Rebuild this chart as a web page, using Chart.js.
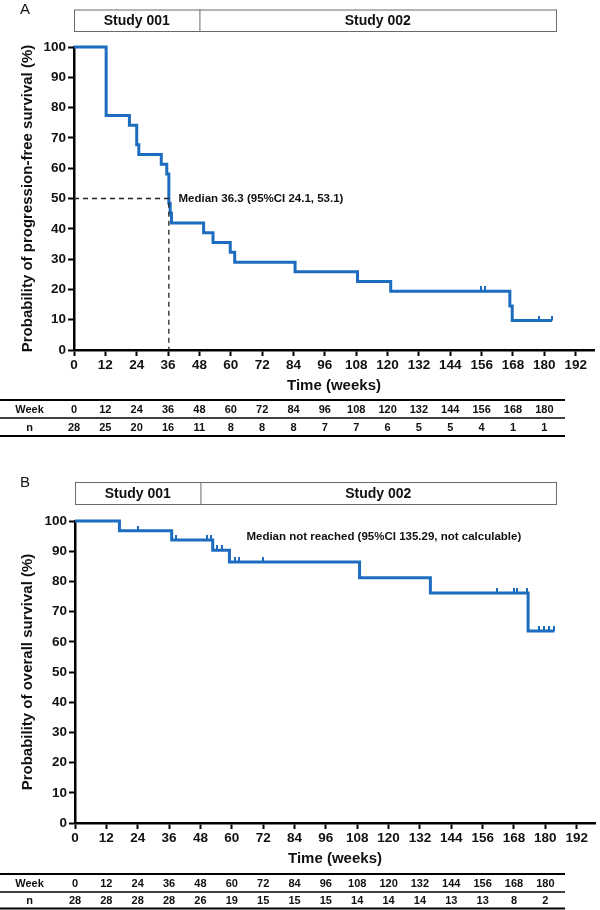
<!DOCTYPE html>
<html>
<head>
<meta charset="utf-8">
<title>PFS and OS</title>
<script src="https://cdn.jsdelivr.net/npm/chart.js@4.4.1/dist/chart.umd.min.js"></script>
<style>
  body { margin: 0; background: #fff; }
  #wrap { position: relative; width: 600px; height: 910px; }
  #wrap canvas { position: absolute; left: 0; }
</style>
</head>
<body>
<div id="wrap">
  <canvas id="pfsChart" width="600" height="450" style="top:0"></canvas>
  <canvas id="osChart" width="600" height="460" style="top:450px"></canvas>
</div>
<script>
// axis ticks and number-at-risk table
const xTickWeeks = [0, 12, 24, 36, 48, 60, 72, 84, 96, 108, 120, 132, 144, 156, 168, 180, 192];
const tableWeeks = [0, 12, 24, 36, 48, 60, 72, 84, 96, 108, 120, 132, 144, 156, 168, 180];
const pfsAtRisk = [28, 25, 20, 16, 11, 8, 8, 8, 7, 7, 6, 5, 5, 4, 1, 1];
const osAtRisk = [28, 28, 28, 28, 26, 19, 15, 15, 15, 14, 14, 14, 13, 13, 8, 2];

// progression-free survival (A)
const pfsWeeks = [0, 12.3, 21.2, 24.0, 24.8, 33.4, 35.5, 36.3, 36.8, 37.3, 49.6, 53.2, 59.8, 61.5, 84.6, 108.5, 121.2, 166.8, 167.7, 182.9];
const pfsSurv  = [100, 77.4, 74.2, 67.7, 64.5, 61.3, 58.1, 48.4, 45.2, 41.9, 38.7, 35.5, 32.3, 29.0, 25.8, 22.6, 19.4, 14.5, 9.7, 9.7];
const pfsCensorWeeks = [155.7, 157.2, 177.8, 182.9];
const pfsCensorSurv  = [19.4, 19.4, 9.7, 9.7];
const medianLineX = [0, 36.3, 36.3];
const medianLineY = [50, 50, 0];

// overall survival (B)
const osWeeks = [0, 17.0, 37.0, 52.7, 59.1, 108.9, 136.0, 173.4, 183.5];
const osSurv  = [100, 96.8, 93.7, 90.3, 86.4, 81.2, 76.2, 63.6, 63.6];
const osCensorWeeks = [24.3, 38.7, 50.4, 52.0, 54.3, 56.2, 61.3, 62.9, 71.9, 161.5, 168.0, 169.2, 173.0, 177.5, 179.4, 181.3, 183.5];
const osCensorSurv  = [96.8, 93.7, 93.7, 93.7, 90.3, 90.3, 86.4, 86.4, 86.4, 76.2, 76.2, 76.2, 76.2, 63.6, 63.6, 63.6, 63.6];

const blue = '#1c6dbf';
const fontFam = "'Liberation Sans', Arial, Helvetica, sans-serif";
Chart.defaults.font.family = fontFam;
Chart.defaults.color = '#111';

// small vertical tick for censored observations (sits on top of the line)
function censorMark() {
    const c = document.createElement('canvas');
    c.width = 2; c.height = 10;
    const g = c.getContext('2d');
    g.fillStyle = blue;
    g.fillRect(0, 0, 2, 5);
    return c;
}

function pts(xs, ys) {
    return xs.map((x, i) => ({ x: x, y: ys[i] }));
}

// letters, study boxes, notes and at-risk table
function panelDecor(p) {
    return {
        id: 'decor_' + p.letter,
        afterDraw(chart) {
            const ctx = chart.ctx;
            const xs = chart.scales.x, ys = chart.scales.y;
            ctx.save();
            ctx.fillStyle = '#111';

            ctx.font = '15px ' + fontFam;
            ctx.textAlign = 'left';
            ctx.textBaseline = 'alphabetic';
            ctx.fillText(p.letter, 20, p.letterY);

            // study box
            const bl = xs.getPixelForValue(0), bd = xs.getPixelForValue(48), br = 556;
            ctx.strokeStyle = '#6a6a6a';
            ctx.lineWidth = 1;
            ctx.strokeRect(bl + 0.5, p.boxTop + 0.5, br - bl, p.boxBottom - p.boxTop);
            ctx.beginPath();
            ctx.moveTo(bd + 0.5, p.boxTop);
            ctx.lineTo(bd + 0.5, p.boxBottom);
            ctx.stroke();
            ctx.font = 'bold 14px ' + fontFam;
            ctx.textAlign = 'center';
            ctx.textBaseline = 'middle';
            const my = (p.boxTop + p.boxBottom) / 2 + 1;
            ctx.fillText('Study 001', (bl + bd) / 2, my);
            ctx.fillText('Study 002', (bd + br) / 2, my);

            // median note
            ctx.font = 'bold 11.5px ' + fontFam;
            ctx.textAlign = 'left';
            ctx.fillText(p.note, xs.getPixelForValue(p.noteX), ys.getPixelForValue(p.noteY));

            // number at risk table
            ctx.strokeStyle = '#000';
            [[p.tableY[0], 2], [p.tableY[1], 1.5], [p.tableY[2], 2]].forEach(([y, w]) => {
                ctx.lineWidth = w;
                ctx.beginPath();
                ctx.moveTo(0, y);
                ctx.lineTo(565, y);
                ctx.stroke();
            });
            ctx.font = 'bold 11px ' + fontFam;
            ctx.textAlign = 'center';
            ctx.fillText('Week', 29.5, p.rowY[0]);
            ctx.fillText('n', 29.5, p.rowY[1]);
            tableWeeks.forEach((w, i) => {
                const x = xs.getPixelForValue(w);
                ctx.fillText(String(w), x, p.rowY[0]);
                ctx.fillText(String(p.atRisk[i]), x, p.rowY[1]);
            });
            ctx.restore();
        }
    };
}

function makeChart(id, p) {
    const datasets = [];
    if (p.median) {
        datasets.push({
            data: pts(medianLineX, medianLineY),
            borderColor: '#222', borderWidth: 1.3, borderDash: [5, 4],
            pointRadius: 0, fill: false
        });
    }
    datasets.push({
        data: pts(p.weeks, p.surv),
        stepped: 'before',
        borderColor: blue, borderWidth: 3,
        pointRadius: 0, fill: false, clip: false
    });
    datasets.push({
        data: pts(p.censorWeeks, p.censorSurv),
        showLine: false,
        pointStyle: censorMark(),
        pointRadius: 3,
        clip: false
    });

    const tickFont = { size: 13.5, weight: 'bold' };
    const titleFont = { size: 15, weight: 'bold' };

    return new Chart(document.getElementById(id), {
        type: 'line',
        data: { datasets: datasets },
        options: {
            responsive: false,
            animation: false,
            layout: { padding: { top: p.padTop, right: p.padRight, left: 0, bottom: 0 } },
            plugins: { legend: { display: false }, tooltip: { enabled: false } },
            scales: {
                x: {
                    type: 'linear',
                    min: 0,
                    max: 199,
                    afterBuildTicks: s => { s.ticks = xTickWeeks.map(v => ({ value: v })); },
                    afterFit: s => { s.height = p.xHeight; },
                    ticks: { font: tickFont, color: '#111', padding: 1, maxRotation: 0, autoSkip: false },
                    border: { display: true, color: '#000', width: 2.5 },
                    grid: { display: true, drawOnChartArea: false, drawTicks: true, tickLength: 6, tickWidth: 2, tickColor: '#000' },
                    title: { display: true, text: 'Time (weeks)', font: titleFont, color: '#111', padding: { top: 0, bottom: p.xTitlePad } }
                },
                y: {
                    min: 0,
                    max: 100,
                    afterFit: s => { s.width = p.yWidth; },
                    ticks: { stepSize: 10, font: tickFont, color: '#111', padding: 2 },
                    border: { display: true, color: '#000', width: 2.5 },
                    grid: { display: true, drawOnChartArea: false, drawTicks: true, tickLength: 6, tickWidth: 2, tickColor: '#000' },
                    title: { display: true, text: p.yTitle, font: titleFont, color: '#111', padding: { top: 18.5, bottom: 0 } }
                }
            }
        },
        plugins: [panelDecor(p)]
    });
}

makeChart('pfsChart', {
    letter: 'A', letterY: 14,
    boxTop: 9.5, boxBottom: 31,
    tableY: [400, 418, 436], rowY: [409.5, 427.5],
    atRisk: pfsAtRisk,
    note: 'Median 36.3 (95%CI 24.1, 53.1)', noteX: 40, noteY: 50,
    median: true,
    weeks: pfsWeeks, surv: pfsSurv,
    censorWeeks: pfsCensorWeeks, censorSurv: pfsCensorSurv,
    padTop: 47, padRight: 6, xHeight: 100, yWidth: 74, xTitlePad: 55,
    yTitle: 'Probability of progression-free survival (%)'
});

makeChart('osChart', {
    letter: 'B', letterY: 37,
    boxTop: 32, boxBottom: 54,
    tableY: [424, 442, 458.5], rowY: [434, 450.5],
    atRisk: osAtRisk,
    note: 'Median not reached (95%CI 135.29, not calculable)', noteX: 65.6, noteY: 94.8,
    median: false,
    weeks: osWeeks, surv: osSurv,
    censorWeeks: osCensorWeeks, censorSurv: osCensorSurv,
    padTop: 71, padRight: 5, xHeight: 87, yWidth: 75, xTitlePad: 42,
    yTitle: 'Probability of overall survival (%)'
});
</script>
</body>
</html>
